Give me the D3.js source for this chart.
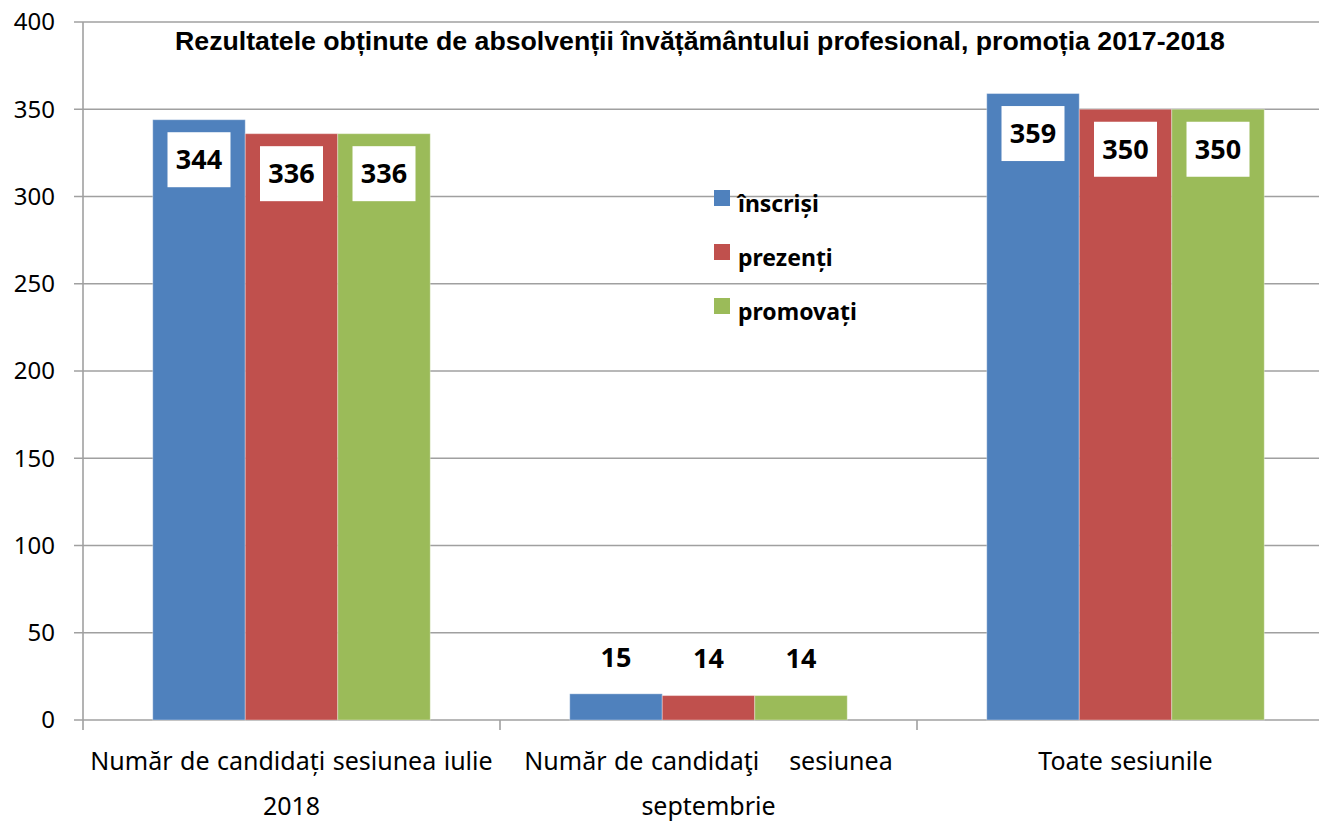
<!DOCTYPE html>
<html>
<head>
<meta charset="utf-8">
<script src="https://cdn.jsdelivr.net/npm/d3@7"></script>
<style>
  html, body { margin: 0; padding: 0; background: #fff; overflow: hidden; }
  svg { display: block; }
</style>
</head>
<body>
<div id="chart"></div>
<script>
// Rezultatele obținute de absolvenții învățământului profesional, 2017-2018

const categories = [
  ["Număr de candidați sesiunea iulie", "2018"],
  ["Număr de candidaţi    sesiunea", "septembrie"],
  ["Toate sesiunile"],
];
const seriesNames = ["înscriși", "prezenți", "promovați"];
const inscrisi = [344, 15, 359];
const prezenti = [336, 14, 350];
const promovati = [336, 14, 350];
const yTicks = [0, 50, 100, 150, 200, 250, 300, 350, 400];

const WIDTH = 1319;
const HEIGHT = 824;
const PLOT = { left: 83, top: 22, bottom: 720, bandW: 417 };

const PALETTE = {
  series: ["#4f81bd", "#c0504d", "#9bbb59"],
  grid: "#a0a0a0",
  ink: "#000",
};

const values = [inscrisi, prezenti, promovati];
const rows = categories.map((cat, i) => ({
  key: i,
  lines: cat,
  vals: seriesNames.map((name, s) => ({ name, s, value: values[s][i] })),
}));

const svg = d3
  .select("#chart")
  .append("svg")
  .attr("width", WIDTH)
  .attr("height", HEIGHT)
  .attr("viewBox", [0, 0, WIDTH, HEIGHT]);

const x0 = d3
  .scaleBand()
  .domain(rows.map((r) => r.key))
  .range([PLOT.left, PLOT.left + PLOT.bandW * rows.length])
  .paddingInner(0)
  .paddingOuter(0);

const x1 = d3
  .scaleBand()
  .domain(d3.range(seriesNames.length))
  .range([0, x0.bandwidth()])
  .paddingInner(0)
  .paddingOuter(0.754);

const y = d3.scaleLinear().domain([0, 400]).range([PLOT.bottom, PLOT.top]);

// gridlines
svg
  .append("g")
  .selectAll("line")
  .data(yTicks)
  .join("line")
  .attr("x1", PLOT.left - 9)
  .attr("x2", WIDTH)
  .attr("y1", (d) => y(d))
  .attr("y2", (d) => y(d))
  .attr("stroke", PALETTE.grid)
  .attr("stroke-width", 1.6);

// y axis line
svg
  .append("line")
  .attr("x1", PLOT.left)
  .attr("x2", PLOT.left)
  .attr("y1", y(400))
  .attr("y2", PLOT.bottom)
  .attr("stroke", PALETTE.grid)
  .attr("stroke-width", 1.6);

// y tick labels
svg
  .append("g")
  .selectAll("text")
  .data(yTicks)
  .join("text")
  .attr("x", PLOT.left - 28)
  .attr("y", (d) => y(d))
  .attr("dy", "0.35em")
  .attr("text-anchor", "end")
  .attr("fill", PALETTE.ink)
  .style("font-family", "'Noto Sans', sans-serif")
  .style("font-size", "24px")
  .text((d) => d);

// x category ticks
svg
  .append("g")
  .selectAll("line")
  .data(rows)
  .join("line")
  .attr("x1", (r) => x0(r.key))
  .attr("x2", (r) => x0(r.key))
  .attr("y1", PLOT.bottom)
  .attr("y2", PLOT.bottom + 10)
  .attr("stroke", PALETTE.grid)
  .attr("stroke-width", 1.6);

// bars
const groups = svg
  .append("g")
  .selectAll("g")
  .data(rows)
  .join("g")
  .attr("transform", (r) => `translate(${x0(r.key)},0)`);

groups
  .selectAll("rect")
  .data((r) => r.vals)
  .join("rect")
  .attr("x", (d) => x1(d.s))
  .attr("width", x1.bandwidth())
  .attr("y", (d) => y(d.value))
  .attr("height", (d) => y(0) - y(d.value))
  .attr("fill", (d) => PALETTE.series[d.s])
  .attr("stroke", "#fff")
  .attr("stroke-opacity", 0.35)
  .attr("stroke-width", 1);

// data labels: white boxes inside tall bars, plain text above short ones
const inside = (d) => d.value > 100;
const labels = groups
  .selectAll("g.label")
  .data((r) => r.vals)
  .join("g")
  .attr("class", "label")
  .attr("transform", (d) => {
    const cx = x1(d.s) + x1.bandwidth() / 2;
    const cy = inside(d) ? y(d.value) + 40 : y(d.value) - 37;
    return `translate(${cx},${cy})`;
  });

labels
  .filter(inside)
  .append("rect")
  .attr("x", -31.5)
  .attr("y", -27.5)
  .attr("width", 63)
  .attr("height", 55)
  .attr("fill", "#fff");

labels
  .append("text")
  .attr("text-anchor", "middle")
  .attr("dy", "0.36em")
  .attr("fill", PALETTE.ink)
  .style("font-family", "'Noto Sans', sans-serif")
  .style("font-weight", "bold")
  .style("font-size", "27px")
  .text((d) => d.value);

// category labels
svg
  .append("g")
  .selectAll("text")
  .data(rows)
  .join("text")
  .attr("x", (r) => x0(r.key) + x0.bandwidth() / 2)
  .attr("y", 770)
  .attr("text-anchor", "middle")
  .attr("fill", PALETTE.ink)
  .style("font-family", "'Noto Sans', sans-serif")
  .style("font-size", "25px")
  .style("word-spacing", "1px")
  .style("white-space", "pre")
  .selectAll("tspan")
  .data((r) => r.lines)
  .join("tspan")
  .attr("x", function () {
    return this.parentNode.getAttribute("x");
  })
  .attr("dy", (d, i) => (i === 0 ? 0 : 45))
  .text((d) => d);

// title
svg
  .append("text")
  .attr("x", 700)
  .attr("y", 50)
  .attr("text-anchor", "middle")
  .attr("fill", PALETTE.ink)
  .style("font-family", "'Liberation Sans', Arial, sans-serif")
  .style("font-weight", "bold")
  .style("font-size", "26.7px")
  .text("Rezultatele obținute de absolvenții învățământului profesional, promoția 2017-2018");

// legend
const legend = svg
  .append("g")
  .attr("transform", "translate(714,190)")
  .selectAll("g")
  .data(seriesNames)
  .join("g")
  .attr("transform", (d, i) => `translate(0,${i * 54})`);

legend
  .append("rect")
  .attr("width", 16)
  .attr("height", 16)
  .attr("fill", (d, i) => PALETTE.series[i]);

legend
  .append("text")
  .attr("x", 24)
  .attr("y", 22)
  .attr("fill", PALETTE.ink)
  .style("font-family", "'Noto Sans', sans-serif")
  .style("font-weight", "bold")
  .style("font-size", "23px")
  .text((d) => d);
</script>
</body>
</html>
